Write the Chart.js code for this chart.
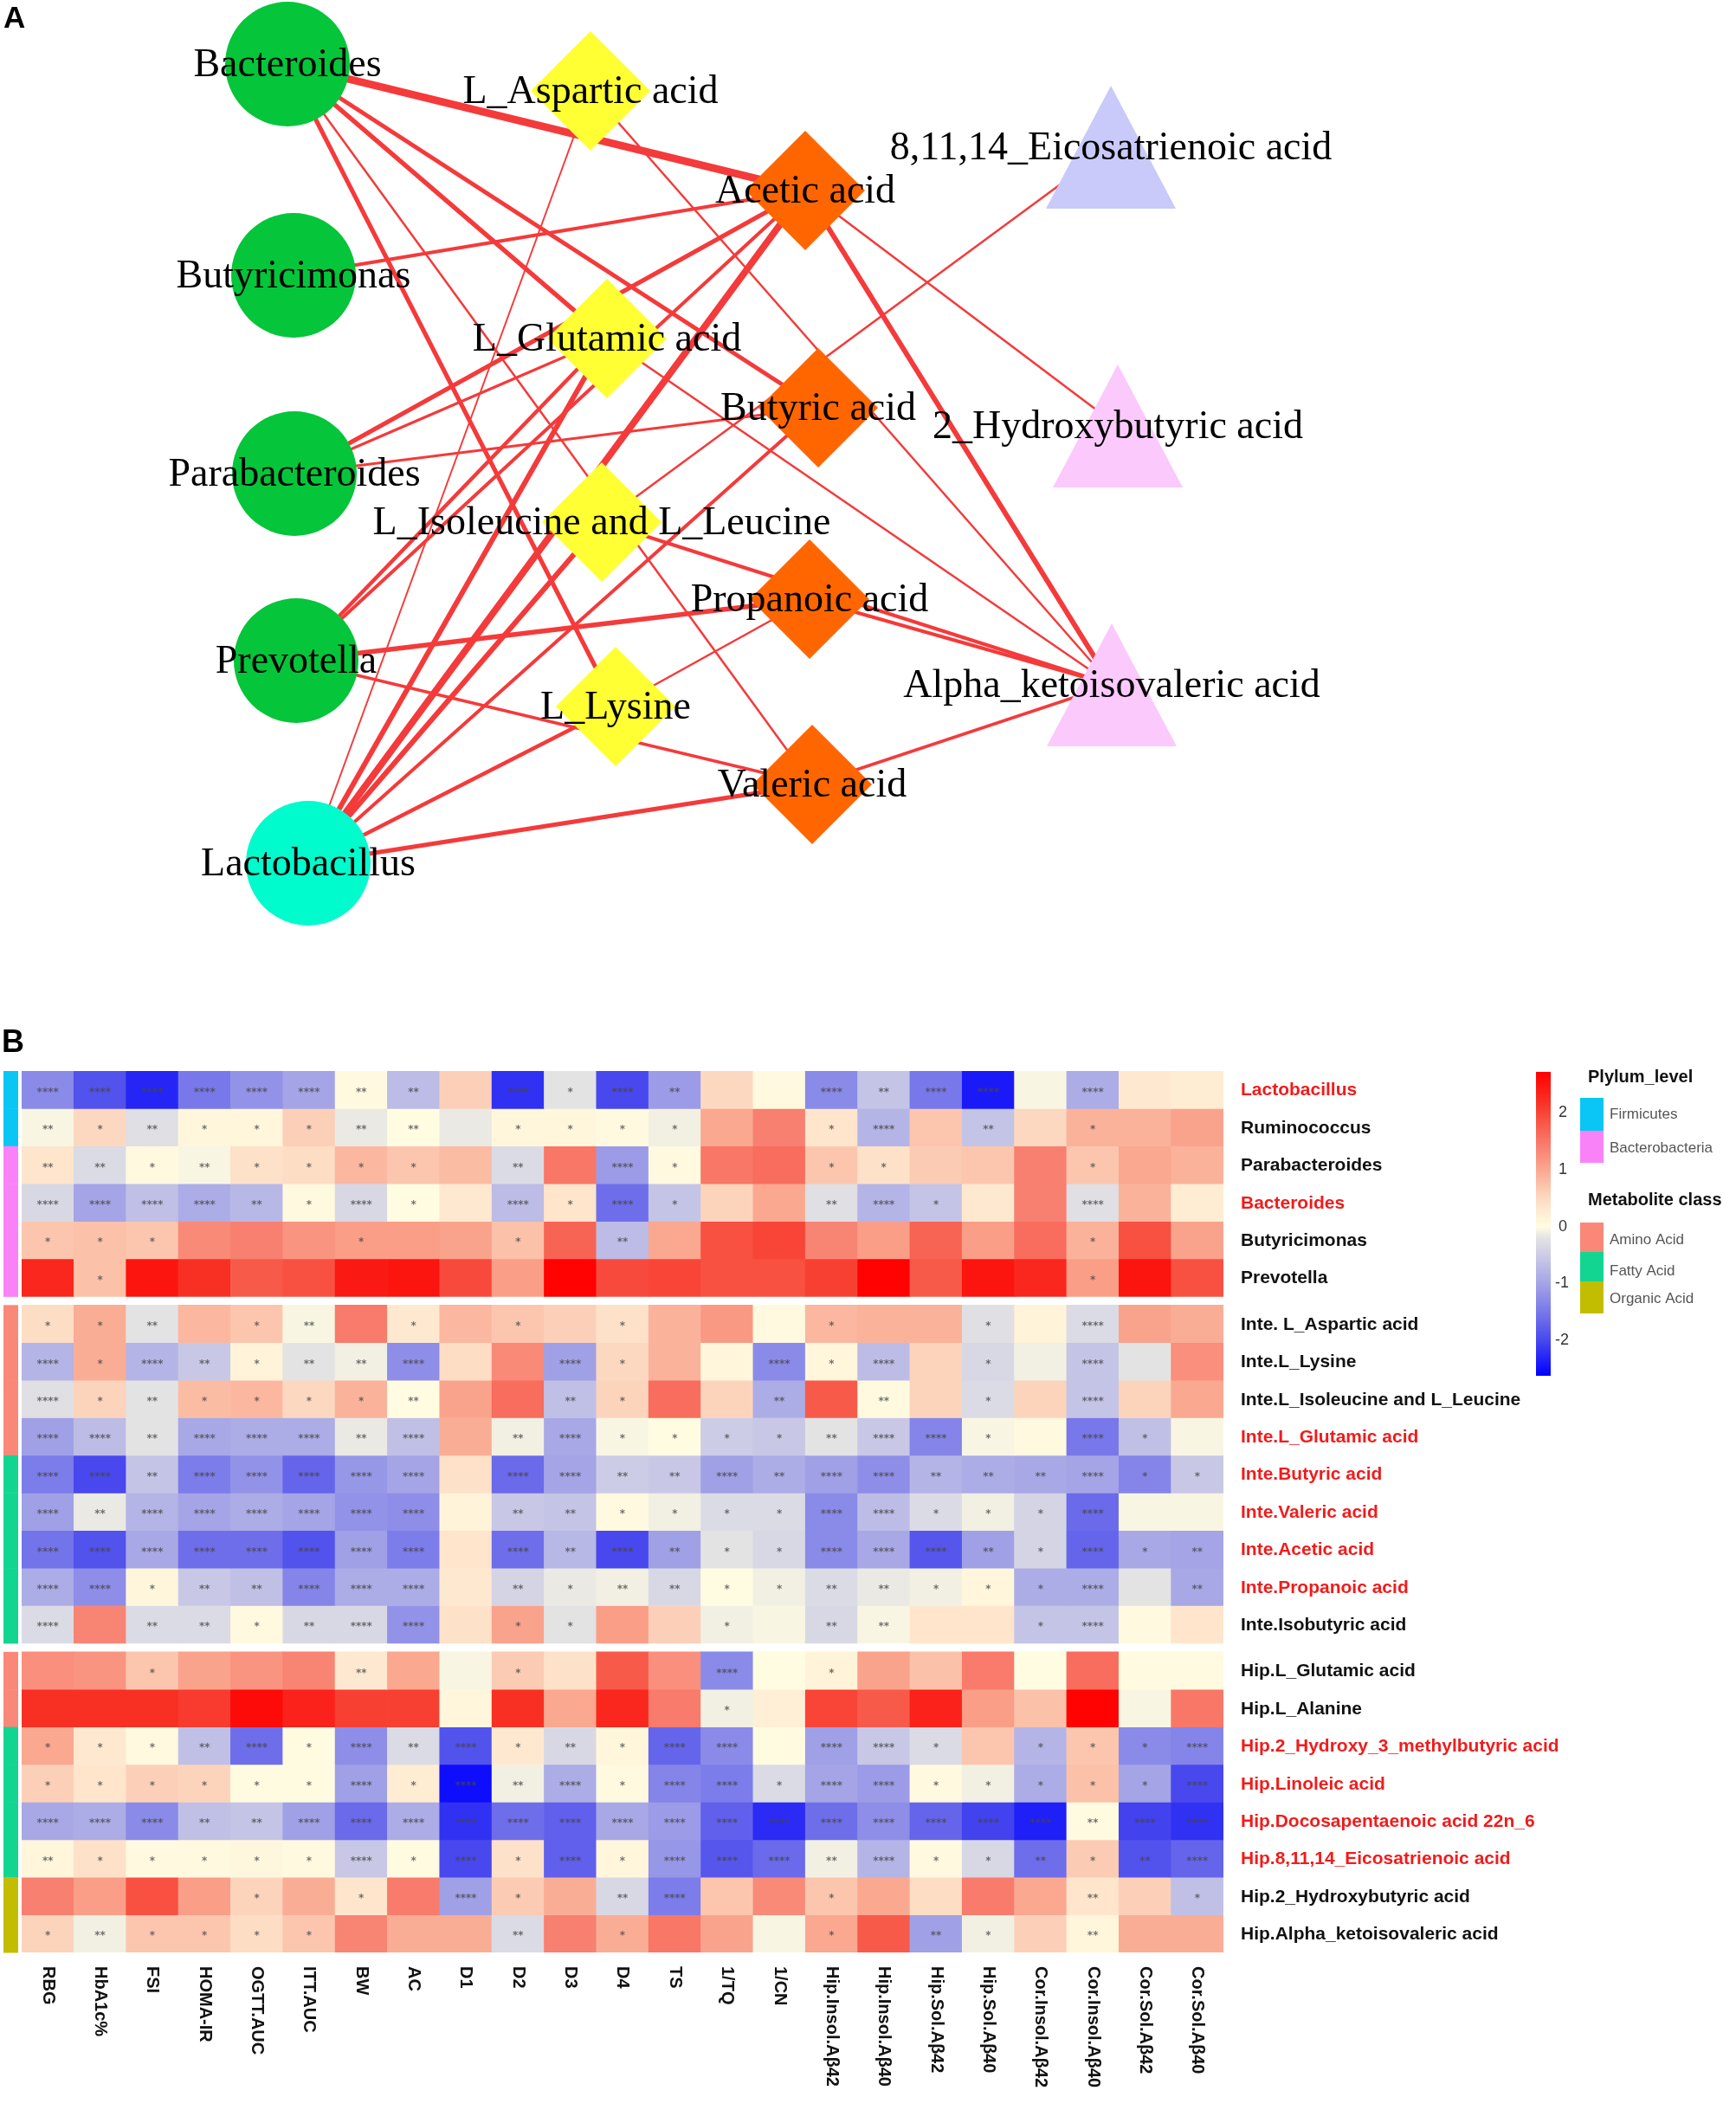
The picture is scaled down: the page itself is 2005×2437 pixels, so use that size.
<!DOCTYPE html>
<html><head><meta charset="utf-8">
<script src="https://cdn.jsdelivr.net/npm/chart.js@4.4.1/dist/chart.umd.min.js"></script>
<style>
html,body{margin:0;padding:0;background:#fff;}
body{width:2005px;height:2437px;position:relative;overflow:hidden;}
#netWrap{position:absolute;left:0;top:0;width:2005px;height:1100px;}
#heatWrap{position:absolute;left:0;top:1180px;width:2005px;height:1257px;}
</style></head><body>
<div id="netWrap"><canvas id="net" width="2005" height="1100"></canvas></div>
<div id="heatWrap"><canvas id="heat" width="2005" height="1257"></canvas></div>
<script>
// ---------------- Panel A data: network ----------------
const nodeNames = ["Bacteroides","Butyricimonas","Parabacteroides","Prevotella","Lactobacillus",
  "L_Aspartic acid","L_Glutamic acid","L_Isoleucine and L_Leucine","L_Lysine",
  "Acetic acid","Butyric acid","Propanoic acid","Valeric acid",
  "8,11,14_Eicosatrienoic acid","2_Hydroxybutyric acid","Alpha_ketoisovaleric acid"];
const nodeKind = ["genusB","genusB","genusB","genusB","genusF",
  "amino","amino","amino","amino","scfa","scfa","scfa","scfa","fatty","organic","organic"];
const nodeX = [332,339,340,342,356, 682,701,695,711, 930,945,935,938, 1283,1291,1284];
const nodeY = [74,318,547,763,997, 105,391,603,816, 220,471,692,906, 170,492,791];
const edgeFrom = [0,0,0,0,0, 1, 2,2,2, 3,3,3,3, 4,4,4,4,4,4,4, 5,6,7,7,8, 9,9,11,12];
const edgeTo   = [9,10,6,8,12, 9, 9,6,10, 6,9,11,12, 5,6,9,7,10,8,12, 15,15,15,13,11, 15,14,15,15];
const edgeStrength = [5,2.8,3,2.8,1.4, 2.2, 2.8,1.7,1.7, 2.5,2.2,3,2, 1.1,3.3,4.4,3.3,2.2,2.5,2.8, 1.4,1.4,2.2,1.4,1.4, 3.3,1.4,2.2,2];

// ---------------- Panel B data: heatmap ----------------
const colNames = ["RBG","HbA1c%","FSI","HOMA-IR","OGTT.AUC","ITT.AUC","BW","AC","D1","D2","D3","D4","TS","1/TQ","1/CN",
  "Hip.Insol.Aβ42","Hip.Insol.Aβ40","Hip.Sol.Aβ42","Hip.Sol.Aβ40","Cor.Insol.Aβ42","Cor.Insol.Aβ40","Cor.Sol.Aβ42","Cor.Sol.Aβ40"];
const rowNames = ["Lactobacillus","Ruminococcus","Parabacteroides","Bacteroides","Butyricimonas","Prevotella",
  "Inte. L_Aspartic acid","Inte.L_Lysine","Inte.L_Isoleucine and L_Leucine","Inte.L_Glutamic acid","Inte.Butyric acid",
  "Inte.Valeric acid","Inte.Acetic acid","Inte.Propanoic acid","Inte.Isobutyric acid",
  "Hip.L_Glutamic acid","Hip.L_Alanine","Hip.2_Hydroxy_3_methylbutyric acid","Hip.Linoleic acid",
  "Hip.Docosapentaenoic acid 22n_6","Hip.8,11,14_Eicosatrienoic acid","Hip.2_Hydroxybutyric acid","Hip.Alpha_ketoisovaleric acid"];
const rowHighlight = [1,0,0,1,0,0, 0,0,0,1,1,1,1,1,0, 0,0,1,1,1,1,0,0];
const rowGroup = [0,0,0,0,0,0, 1,1,1,1,1,1,1,1,1, 2,2,2,2,2,2,2,2];
const rowClass = ["Firmicutes","Firmicutes","Bacterobacteria","Bacterobacteria","Bacterobacteria","Bacterobacteria",
  "Amino Acid","Amino Acid","Amino Acid","Amino Acid","Fatty Acid","Fatty Acid","Fatty Acid","Fatty Acid","Fatty Acid",
  "Amino Acid","Amino Acid","Fatty Acid","Fatty Acid","Fatty Acid","Fatty Acid","Organic Acid","Organic Acid"];

const r01=[-1.3,-1.9,-2.3,-1.5,-1.2,-1.0,0.05,-0.7,0.6,-2.2,-0.2,-2.0,-1.1,0.5,0.05,-1.3,-0.6,-1.5,-2.4,-0.05,-0.9,0.3,0.25];
const r02=[-0.05,0.5,-0.25,0.1,0.1,0.6,-0.15,0.0,-0.15,0.1,0.1,0.05,-0.1,1.0,1.4,0.35,-0.8,0.7,-0.6,0.5,0.9,0.9,1.05];
const r03=[0.35,-0.3,0.05,-0.05,0.4,0.45,0.85,0.7,0.8,-0.3,1.5,-1.1,0.05,1.5,1.6,0.7,0.4,0.65,0.7,1.4,0.7,1.0,0.9];
const r04=[-0.35,-1.0,-0.65,-0.9,-0.75,0.05,-0.35,0.0,0.3,-0.7,0.35,-1.6,-0.6,0.55,1.0,-0.25,-0.8,-0.6,0.3,1.4,-0.25,0.9,0.25];
const r05=[0.7,0.75,0.7,1.3,1.4,1.2,1.1,1.1,1.05,0.75,1.7,-0.7,1.0,1.9,2.0,1.35,1.1,1.7,1.1,1.6,0.9,1.9,1.05];
const r06=[2.3,0.75,2.5,2.2,1.8,1.9,2.45,2.5,1.95,1.1,2.7,1.95,2.0,1.9,1.9,2.05,2.7,1.8,2.5,2.3,1.1,2.5,1.9];
const r07=[0.45,0.95,-0.2,0.85,0.7,-0.05,1.45,0.3,0.85,0.7,0.6,0.4,0.9,1.15,0.05,0.85,0.9,0.9,-0.25,0.15,-0.3,1.05,0.95];
const r08=[-0.8,0.95,-0.8,-0.55,0.15,-0.2,-0.1,-1.25,0.45,1.3,-1.05,0.5,0.9,0.1,-1.3,0.1,-0.7,0.55,-0.35,-0.1,-0.6,-0.2,1.25];
const r09=[-0.25,0.55,-0.2,0.8,0.85,0.5,0.9,0.0,1.05,1.6,-0.65,0.55,1.6,0.55,-0.9,1.8,0.05,0.55,-0.3,0.55,-0.6,0.55,1.0];
const r10=[-1.05,-0.7,-0.2,-0.95,-0.9,-0.9,-0.15,-0.65,0.95,-0.1,-0.95,-0.05,0.0,-0.5,-0.55,-0.2,-0.55,-1.35,-0.05,0.05,-1.5,-0.65,-0.05];
const r11=[-1.45,-2.0,-0.6,-1.45,-1.2,-1.7,-1.15,-1.0,0.4,-1.65,-1.0,-0.5,-0.55,-1.05,-0.9,-1.05,-1.25,-0.8,-0.9,-0.95,-1.0,-1.35,-0.55];
const r12=[-1.05,-0.15,-0.8,-1.0,-0.9,-1.0,-1.2,-1.25,0.15,-0.55,-0.6,0.05,-0.1,-0.3,-0.3,-1.3,-0.7,-0.3,-0.1,-0.4,-1.65,-0.05,-0.05];
const r13=[-1.55,-1.9,-0.95,-1.6,-1.6,-1.9,-1.05,-1.45,0.35,-1.6,-0.75,-2.0,-1.05,-0.2,-0.35,-1.3,-0.95,-1.85,-1.05,-0.4,-1.7,-0.95,-1.0];
const r14=[-0.9,-1.25,0.1,-0.55,-0.65,-1.35,-0.9,-0.9,0.3,-0.4,-0.15,-0.1,-0.35,0.0,-0.1,-0.3,-0.15,-0.1,0.1,-0.9,-0.9,-0.2,-0.95];
const r15=[-0.3,1.35,-0.3,-0.3,0.05,-0.35,-0.35,-1.2,0.4,1.05,-0.2,1.1,0.6,-0.1,-0.05,-0.35,-0.05,0.35,0.35,-0.6,-0.6,0.05,0.35];
const r16=[1.25,1.2,0.7,1.05,1.2,1.35,0.3,1.0,-0.05,0.65,0.4,1.8,1.25,-1.3,0.0,0.15,1.05,0.75,1.45,0.0,1.6,0.03,0.03];
const r17=[2.2,2.2,2.2,2.1,2.6,2.35,2.05,2.05,0.1,2.2,1.0,2.3,1.45,-0.1,0.2,2.0,1.8,2.35,1.1,0.75,2.7,-0.05,1.5];
const r18=[1.0,0.3,0.05,-0.65,-1.6,0.02,-1.25,-0.3,-1.9,0.3,-0.35,0.1,-1.7,-1.3,0.02,-1.05,-0.55,-0.3,0.7,-0.8,0.7,-1.3,-1.35];
const r19=[0.6,0.35,0.6,0.55,0.02,0.02,-1.05,0.25,-2.5,-0.1,-0.9,0.05,-1.35,-1.45,-0.3,-1.0,-1.1,0.05,-0.1,-0.9,0.75,-1.0,-2.0];
const r20=[-0.95,-0.9,-1.3,-0.65,-0.6,-1.05,-1.65,-0.9,-2.2,-1.6,-1.75,-0.95,-1.1,-1.75,-2.25,-1.6,-1.25,-1.7,-2.05,-2.35,0.02,-2.05,-2.2];
const r21=[0.1,0.4,0.05,0.05,0.08,0.05,-0.55,0.02,-2.0,0.4,-1.75,0.1,-1.15,-1.85,-1.65,-0.1,-0.8,0.05,-0.35,-1.6,0.65,-1.9,-1.7];
const r22=[1.4,1.1,1.9,1.1,0.55,0.95,0.35,1.45,-1.05,0.65,0.95,-0.35,-1.45,0.7,1.3,0.7,1.0,0.45,1.45,1.0,0.35,0.6,-0.65];
const r23=[0.55,-0.1,0.7,0.7,0.45,0.7,1.35,0.95,0.95,-0.3,1.4,0.95,1.5,1.05,-0.05,1.0,1.8,-1.05,-0.1,0.6,0.1,0.95,0.95];
const heatValues=[r01,r02,r03,r04,r05,r06,r07,r08,r09,r10,r11,r12,r13,r14,r15,r16,r17,r18,r19,r20,r21,r22,r23];

// significance marks (number of asterisks)
const s01=[4,4,4,4,4,4,2,2,0,4,1,4,2,0,0,4,2,4,4,0,4,0,0];
const s02=[2,1,2,1,1,1,2,2,0,1,1,1,1,0,0,1,4,0,2,0,1,0,0];
const s03=[2,2,1,2,1,1,1,1,0,2,0,4,1,0,0,1,1,0,0,0,1,0,0];
const s04=[4,4,4,4,2,1,4,1,0,4,1,4,1,0,0,2,4,1,0,0,4,0,0];
const s05=[1,1,1,0,0,0,1,0,0,1,0,2,0,0,0,0,0,0,0,0,1,0,0];
const s06=[0,1,0,0,0,0,0,0,0,0,0,0,0,0,0,0,0,0,0,0,1,0,0];
const s07=[1,1,2,0,1,2,0,1,0,1,0,1,0,0,0,1,0,0,1,0,4,0,0];
const s08=[4,1,4,2,1,2,2,4,0,0,4,1,0,0,4,1,4,0,1,0,4,0,0];
const s09=[4,1,2,1,1,1,1,2,0,0,2,1,0,0,2,0,2,0,1,0,4,0,0];
const s10=[4,4,2,4,4,4,2,4,0,2,4,1,1,1,1,2,4,4,1,0,4,1,0];
const s11=[4,4,2,4,4,4,4,4,0,4,4,2,2,4,2,4,4,2,2,2,4,1,1];
const s12=[4,2,4,4,4,4,4,4,0,2,2,1,1,1,1,4,4,1,1,1,4,0,0];
const s13=[4,4,4,4,4,4,4,4,0,4,2,4,2,1,1,4,4,4,2,1,4,1,2];
const s14=[4,4,1,2,2,4,4,4,0,2,1,2,2,1,1,2,2,1,1,1,4,0,2];
const s15=[4,0,2,2,1,2,4,4,0,1,1,0,0,1,0,2,2,0,0,1,4,0,0];
const s16=[0,0,1,0,0,0,2,0,0,1,0,0,0,4,0,1,0,0,0,0,0,0,0];
const s17=[0,0,0,0,0,0,0,0,0,0,0,0,0,1,0,0,0,0,0,0,0,0,0];
const s18=[1,1,1,2,4,1,4,2,4,1,2,1,4,4,0,4,4,1,0,1,1,1,4];
const s19=[1,1,1,1,1,1,4,1,4,2,4,1,4,4,1,4,4,1,1,1,1,1,4];
const s20=[4,4,4,2,2,4,4,4,4,4,4,4,4,4,4,4,4,4,4,4,2,4,4];
const s21=[2,1,1,1,1,1,4,1,4,1,4,1,4,4,4,2,4,1,1,2,1,2,4];
const s22=[0,0,0,0,1,0,1,0,4,1,0,2,4,0,0,1,0,0,0,0,2,0,1];
const s23=[1,2,1,1,1,1,0,0,0,2,0,1,0,0,0,1,0,2,1,0,2,0,0];
const heatStars=[s01,s02,s03,s04,s05,s06,s07,s08,s09,s10,s11,s12,s13,s14,s15,s16,s17,s18,s19,s20,s21,s22,s23];

const colorbarTicks = [2,1,0,-1,-2];
const scaleMin = -2.62, scaleMax = 2.72;

// ---------------- styles ----------------
const kindColor = {genusB:"#05c53a", genusF:"#00fbcd", amino:"#ffff33", scfa:"#ff6600", fatty:"#c9c9fa", organic:"#fbc9fb"};
const classColor = {"Firmicutes":"#0ac6f5","Bacterobacteria":"#fa82f8","Amino Acid":"#f98878","Fatty Acid":"#13d592","Organic Acid":"#c3bd02"};
const EDGE_COLOR = "#f43a3a";

const stops=[[-2.62,[0,0,255]],[-2.0,[72,72,238]],[-1.5,[120,120,234]],[-1.0,[164,164,230]],[-0.5,[204,204,230]],
  [-0.2,[227,227,228]],[0,[255,252,226]],[0.3,[254,233,208]],[0.6,[252,208,184]],[1.0,[250,168,144]],
  [1.4,[248,128,112]],[1.8,[248,90,74]],[2.2,[248,48,36]],[2.72,[255,0,0]]];
function valColor(v){
  if(v<=stops[0][0]) return 'rgb('+stops[0][1].join(',')+')';
  for(let i=1;i<stops.length;i++){
    if(v<=stops[i][0]){
      const a=stops[i-1], b=stops[i]; const t=(v-a[0])/(b[0]-a[0]);
      const c=a[1].map((x,k)=>Math.round(x+(b[1][k]-x)*t));
      return 'rgb('+c.join(',')+')';
    }
  }
  return 'rgb('+stops[stops.length-1][1].join(',')+')';
}

// ---------------- Panel A chart ----------------
function triangleImage(color){
  const c=document.createElement('canvas'); c.width=150; c.height=142;
  const g=c.getContext('2d'); g.fillStyle=color; g.beginPath();
  g.moveTo(75,0); g.lineTo(150,142); g.lineTo(0,142); g.closePath(); g.fill();
  return c;
}
const triFatty=triangleImage(kindColor.fatty), triOrg=triangleImage(kindColor.organic);
function nodeStyle(k){
  if(k==='genusB'||k==='genusF') return 'circle';
  if(k==='amino'||k==='scfa') return 'rectRot';
  return k==='fatty'?triFatty:triOrg;
}
function nodeRadius(k){ return (k==='genusB'||k==='genusF')?72:69; }

const edgeDatasets = edgeFrom.map((f,i)=>({
  type:'scatter', showLine:true, clip:false, order:2,
  data:[{x:nodeX[f],y:nodeY[f]},{x:nodeX[edgeTo[i]],y:nodeY[edgeTo[i]]}],
  borderColor:EDGE_COLOR, borderWidth:edgeStrength[i]*1.8, pointRadius:0, pointHoverRadius:0
}));
const nodeDataset = {
  type:'scatter', clip:false, order:1,
  data:nodeNames.map((n,i)=>({x:nodeX[i],y:nodeY[i]})),
  pointStyle:nodeKind.map(nodeStyle), pointRadius:nodeKind.map(nodeRadius), pointHoverRadius:nodeKind.map(nodeRadius),
  backgroundColor:nodeKind.map(k=>kindColor[k]), borderWidth:0
};
const netLabels = {
  id:'netLabels',
  afterDatasetsDraw(chart){
    const ctx=chart.ctx, xs=chart.scales.x, ys=chart.scales.y;
    ctx.save();
    ctx.fillStyle='#000'; ctx.font='46px "Liberation Serif", "Times New Roman", serif';
    ctx.textAlign='center'; ctx.textBaseline='middle';
    nodeNames.forEach((n,i)=>ctx.fillText(n, xs.getPixelForValue(nodeX[i]), ys.getPixelForValue(nodeY[i])+2));
    ctx.font='bold 35px "Liberation Sans", Arial, sans-serif'; ctx.textAlign='left';
    ctx.fillText('A', 4, 22);
    ctx.restore();
  }
};
new Chart(document.getElementById('net'), {
  data:{datasets:[nodeDataset, ...edgeDatasets]},
  options:{
    responsive:false, devicePixelRatio:1, animation:false,
    layout:{padding:0, autoPadding:false},
    scales:{ x:{type:'linear',min:0,max:2005,display:false}, y:{type:'linear',min:0,max:1100,reverse:true,display:false} },
    plugins:{legend:{display:false}, tooltip:{enabled:false}},
    events:[]
  },
  plugins:[netLabels]
});

// ---------------- Panel B chart ----------------
const GAP = 0.23;
function rowTop(i){ return i + rowGroup[i]*GAP; }
const totalRows = rowNames.length + GAP*rowGroup[rowGroup.length-1];

const heatDatasets = heatValues.map((vals,i)=>({
  label:rowNames[i],
  data:colNames.map(()=>[rowTop(i), rowTop(i)+1]),
  backgroundColor:vals.map(valColor),
  borderWidth:0, grouped:false, barPercentage:1, categoryPercentage:1
}));

const heatDecor = {
  id:'heatDecor',
  afterDatasetsDraw(chart){
    const ctx=chart.ctx, xs=chart.scales.x, ys=chart.scales.y, area=chart.chartArea;
    ctx.save();
    // significance marks
    ctx.fillStyle='rgba(70,70,70,0.75)';
    ctx.font='bold 12px "DejaVu Sans", sans-serif'; ctx.textAlign='center'; ctx.textBaseline='middle';
    heatStars.forEach((row,i)=>row.forEach((n,j)=>{
      if(n>0) ctx.fillText('*'.repeat(n), xs.getPixelForValue(j), ys.getPixelForValue(rowTop(i)+0.5)+3);
    }));
    // row annotation bar
    rowClass.forEach((c,i)=>{
      const y0=ys.getPixelForValue(rowTop(i)), y1=ys.getPixelForValue(rowTop(i)+1);
      ctx.fillStyle=classColor[c]; ctx.fillRect(4, y0, 17, y1-y0+0.5);
    });
    // row labels
    ctx.font='bold 21px "Liberation Sans", Arial, sans-serif'; ctx.textAlign='left'; ctx.textBaseline='middle';
    rowNames.forEach((n,i)=>{
      ctx.fillStyle=rowHighlight[i]?'#f01c1c':'#111';
      ctx.fillText(n, area.right+20, ys.getPixelForValue(rowTop(i)+0.5)+1);
    });
    // column labels (rotated, reading downward)
    ctx.fillStyle='#111'; ctx.font='bold 20px "Liberation Sans", Arial, sans-serif';
    colNames.forEach((n,j)=>{
      ctx.save(); ctx.translate(xs.getPixelForValue(j), area.bottom+16); ctx.rotate(Math.PI/2);
      ctx.textAlign='left'; ctx.textBaseline='middle'; ctx.fillText(n,0,0); ctx.restore();
    });
    // colour bar
    const cbX=1774, cbW=17, cbTop=58, cbBot=409;
    for(let py=cbTop; py<cbBot; py++){
      const v = scaleMax - (py-cbTop+0.5)/(cbBot-cbTop)*(scaleMax-scaleMin);
      ctx.fillStyle=valColor(v); ctx.fillRect(cbX, py, cbW, 1);
    }
    ctx.fillStyle='#333'; ctx.font='18px "Liberation Sans", Arial, sans-serif'; ctx.textAlign='left'; ctx.textBaseline='middle';
    colorbarTicks.forEach(t=>{
      const py = cbTop + (scaleMax-t)/(scaleMax-scaleMin)*(cbBot-cbTop);
      ctx.fillText(String(t), t<0?1796:1800, py);
    });
    // category legends
    ctx.fillStyle='#111'; ctx.font='bold 20px "Liberation Sans", Arial, sans-serif';
    ctx.fillText('Plylum_level', 1834, 64);
    ctx.fillText('Metabolite class', 1834, 206);
    const legItems=[["Firmicutes",88,126,107],["Bacterobacteria",126,163,146],["Amino Acid",232,266,252],["Fatty Acid",266,300,288],["Organic Acid",300,337,320]];
    legItems.forEach(([name,y0,y1,ty])=>{
      ctx.fillStyle=classColor[name]; ctx.fillRect(1825,y0,27,y1-y0);
      ctx.fillStyle='#555'; ctx.font='17px "Liberation Sans Narrow", "Liberation Sans", Arial, sans-serif';
      ctx.fillText(name, 1859, ty);
    });
    ctx.fillStyle='#000'; ctx.font='bold 36px "Liberation Sans", Arial, sans-serif';
    ctx.fillText('B', 2, 25);
    ctx.restore();
  }
};

new Chart(document.getElementById('heat'), {
  type:'bar',
  data:{labels:colNames, datasets:heatDatasets},
  options:{
    responsive:false, devicePixelRatio:1, animation:false,
    layout:{padding:{left:25,right:592,top:57,bottom:182}},
    scales:{
      x:{type:'category', display:false, offset:true},
      y:{type:'linear', min:0, max:totalRows, reverse:true, display:false}
    },
    plugins:{legend:{display:false}, tooltip:{enabled:false}},
    events:[]
  },
  plugins:[heatDecor]
});
</script>
</body></html>
